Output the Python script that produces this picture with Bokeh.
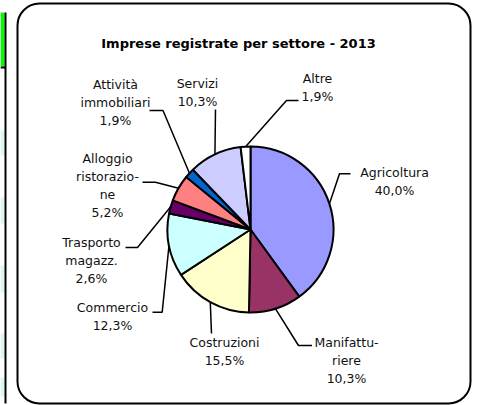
import numpy as np
from bokeh.plotting import figure
from bokeh.models import Range1d, BoxAnnotation, ColumnDataSource
from bokeh.core.properties import value
from bokeh.embed import file_html
from bokeh.resources import INLINE

# ---------------- data ----------------
chart_title = "Imprese registrate per settore - 2013"
categories = ["Agricoltura", "Manifatturiere", "Costruzioni", "Commercio",
              "Trasporto magazz.", "Alloggio ristorazione", "Attività immobiliari",
              "Servizi", "Altre"]
label_names = ["Agricoltura", "Manifattu-\nriere", "Costruzioni", "Commercio",
               "Trasporto\nmagazz.", "Alloggio\nristorazio-\nne", "Attività\nimmobiliari",
               "Servizi", "Altre"]
shares = [40.0, 10.3, 15.5, 12.3, 2.6, 5.2, 1.9, 10.3, 1.9]
colors = ["#9999FF", "#993366", "#FFFFCC", "#CCFFFF", "#660066",
          "#FF8080", "#0066CC", "#CCCCFF", "#FFFFFF"]

# ---------------- layout (reference pixel space, y downward) ----------------
PAGE_W, PAGE_H = 477, 405
def Y(v):
    return PAGE_H - v

CX, CY, R = 250.0, 229.0, 83.0
label_pos = [(394, 180.5), (346, 360), (224, 351), (112, 316), (91, 260),
             (107, 185), (115, 101.5), (197, 92), (317, 87)]
leader_knees = [[(350, 173.3), (339, 173.3)],
                [(311.5, 345), (298, 345)],
                [(211, 333)],
                [(152, 311.7), (161.7, 311.7)],
                [(125, 247), (137, 247)],
                [(142, 181.7), (155, 181.7)],
                [(149, 110), (162.5, 110)],
                [(215, 109)],
                [(298, 100), (286, 100)]]

p = figure(width=PAGE_W, height=PAGE_H, output_backend="svg", toolbar_location=None,
           x_range=Range1d(0, PAGE_W), y_range=Range1d(0, PAGE_H),
           x_axis_location=None, y_axis_location=None, title=None, min_border=0)
p.grid.visible = False
p.outline_line_color = None
p.background_fill_color = "white"
p.border_fill_color = "white"

# left strip (fragment of neighbouring table)
p.quad(left=[0], right=[4], bottom=[Y(66)], top=[Y(12)], fill_color="#00FF00", line_color=None)
mint_top = [130, 197, 265, 333, 377]
mint_bot = [155, 223, 292, 358, 396]
p.quad(left=[0] * 5, right=[4] * 5, bottom=[Y(v) for v in mint_bot], top=[Y(v) for v in mint_top],
       fill_color="#DDF8EA", line_color=None)
p.segment(x0=[5], y0=[Y(12)], x1=[5], y1=[Y(403)], line_color="black", line_width=2)
p.segment(x0=[0], y0=[Y(67)], x1=[5], y1=[Y(67)], line_color="black", line_width=2)

# pie
frac = np.cumsum([0.0] + shares) / 100.0
start = np.pi / 2 - 2 * np.pi * frac[:-1]
end = np.pi / 2 - 2 * np.pi * frac[1:]
mid = (start + end) / 2
src = ColumnDataSource(dict(cat=categories, start=start, end=end, color=colors))
p.wedge(x=CX, y=Y(CY), radius=R, start_angle="start", end_angle="end", direction="clock",
        fill_color="color", line_color="black", line_width=2, source=src)

# leader lines
xs, ys = [], []
for knees, a in zip(leader_knees, mid):
    ex = CX + R * np.cos(a)
    ey = Y(CY) + R * np.sin(a)
    xs.append([k[0] for k in knees] + [ex])
    ys.append([Y(k[1]) for k in knees] + [ey])
p.multi_line(xs=xs, ys=ys, line_color="black", line_width=1.5)

# labels
texts = [n + "\n" + f"{v:.1f}".replace(".", ",") + "%" for n, v in zip(label_names, shares)]
p.text(x=[lp[0] for lp in label_pos], y=[Y(lp[1]) for lp in label_pos], text=texts,
       text_align="center", text_baseline="middle", text_font=value("DejaVu Sans"),
       text_font_size="12.5px", text_line_height=1.2, text_color="#111111")

# title
p.text(x=[238], y=[Y(43)], text=[chart_title], text_align="center", text_baseline="middle",
       text_font=value("DejaVu Sans"), text_font_style="bold", text_font_size="13px",
       text_color="black")

# rounded frame
p.add_layout(BoxAnnotation(left=17, right=470, top=Y(3), bottom=Y(403), border_radius=22,
                           fill_alpha=0, fill_color=None, line_color="black", line_alpha=1,
                           line_width=2))

open("out.html", "w").write(file_html(p, INLINE))
